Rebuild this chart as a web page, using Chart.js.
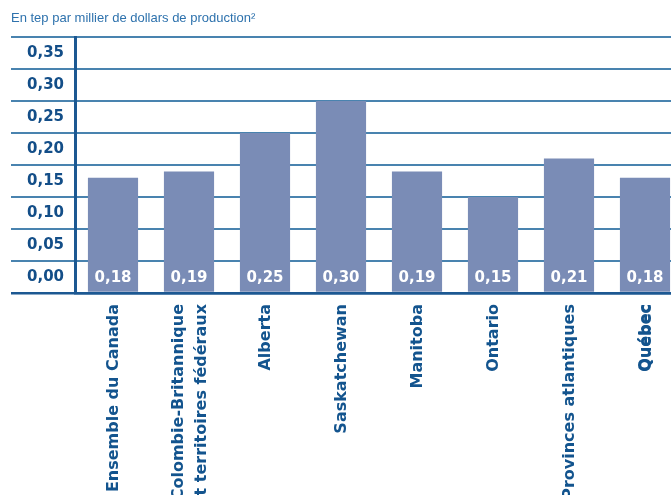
<!DOCTYPE html>
<html lang="fr">
<head>
<meta charset="utf-8">
<title>Intensité énergétique</title>
<script src="https://cdn.jsdelivr.net/npm/chart.js@4.4.1/dist/chart.umd.min.js"></script>
<style>
  html, body { margin: 0; padding: 0; background: #ffffff; overflow: hidden; }
  /* the last bar runs past the right edge, so the canvas is a little wider than the frame */
  #wrap { width: 671px; height: 495px; overflow: hidden; }
  #intensityChart { display: block; }
</style>
</head>
<body>
<div id="wrap"><canvas id="intensityChart" width="683" height="495"></canvas></div>
<script>
// Regions and their energy intensity (tep per thousand dollars of output)
const regions = [
    'Ensemble du Canada',
    ['Colombie-Britannique', 'et territoires fédéraux'],
    'Alberta',
    'Saskatchewan',
    'Manitoba',
    'Ontario',
    'Provinces atlantiques',
    'Québec'
];
const intensity = [0.18, 0.19, 0.25, 0.30, 0.19, 0.15, 0.21, 0.18];

// y axis: gridlines every 0.05 up to 0.40, labels sit in the band above each line
const yMin = 0;
const yMax = 0.40;
const yStep = 0.05;

const DARK = '#1c5892';
const GRID = 'rgba(22, 96, 152, 0.78)';
const BAR = '#7a8cb6';
const LABEL = '#13548e';

function frNumber(v) {
    return v.toFixed(2).replace('.', ',');
}

// writes each value in white at the foot of its bar
const barValues = {
    id: 'barValues',
    afterDraw(chart) {
        const ctx = chart.ctx;
        const yScale = chart.scales.y;
        const base = yScale.getPixelForValue(yMin);
        const band = base - yScale.getPixelForValue(yStep);
        const meta = chart.getDatasetMeta(0);
        ctx.save();
        ctx.fillStyle = '#ffffff';
        ctx.font = 'bold 15px "DejaVu Sans"';
        ctx.textAlign = 'center';
        ctx.textBaseline = 'middle';
        meta.data.forEach((bar, i) => {
            ctx.fillText(frNumber(intensity[i]), bar.x, base - band / 2 + 1);
        });
        ctx.restore();
    }
};

// region names, turned to read upward, hanging from just under the axis
const regionLabels = {
    id: 'regionLabels',
    afterDraw(chart) {
        const ctx = chart.ctx;
        const xScale = chart.scales.x;
        const top = xScale.top + 11;
        const lineGap = 23;
        ctx.save();
        ctx.fillStyle = LABEL;
        ctx.textAlign = 'right';
        ctx.textBaseline = 'middle';
        ctx.font = 'bold 16px "DejaVu Sans"';
        chart.data.labels.forEach((label, i) => {
            const lines = Array.isArray(label) ? label : [label];
            const x = xScale.getPixelForTick(i);
            // the last region is set in a heavier weight: overprint it slightly shifted
            const passes = label === 'Québec' ? [-0.4, 0.4] : [0];
            ctx.save();
            ctx.translate(x, top);
            ctx.rotate(-Math.PI / 2);
            lines.forEach((line, j) => {
                const off = (j - (lines.length - 1) / 2) * lineGap + 1;
                passes.forEach((d) => ctx.fillText(line, 0, off + d));
            });
            ctx.restore();
        });
        ctx.restore();
    }
};

const ctx = document.getElementById('intensityChart').getContext('2d');
new Chart(ctx, {
    type: 'bar',
    data: {
        labels: regions,
        datasets: [{
            data: intensity,
            backgroundColor: BAR,
            borderWidth: 0,
            barPercentage: 0.66,
            categoryPercentage: 1
        }]
    },
    options: {
        responsive: false,
        devicePixelRatio: 1,
        animation: false,
        layout: { padding: { left: 11, right: 0, top: 0, bottom: 0 } },
        plugins: {
            legend: { display: false },
            tooltip: { enabled: false },
            title: {
                display: true,
                text: 'En tep par millier de dollars de production²',
                align: 'start',
                color: '#2e72ad',
                font: { family: '"Liberation Sans Narrow", "Liberation Sans"', size: 13, weight: 'normal', lineHeight: 1.2 },
                padding: { top: 11, bottom: 10.4 }
            }
        },
        scales: {
            x: {
                z: 1,
                grid: { display: false },
                border: { display: true, color: DARK, width: 2.5 },
                ticks: { display: false },
                afterFit(scale) { scale.height = 202; }
            },
            y: {
                z: 1,
                min: yMin,
                max: yMax,
                grid: {
                    color: (c) => (c.tick && c.tick.value === 0 ? DARK : GRID),
                    tickColor: (c) => (c.tick && c.tick.value === 0 ? DARK : GRID),
                    lineWidth: (c) => (c.tick && c.tick.value === 0 ? 2.5 : 2),
                    drawTicks: true,
                    tickLength: 64
                },
                border: { display: true, color: DARK, width: 3 },
                ticks: {
                    stepSize: yStep,
                    padding: -53,
                    labelOffset: -16,
                    color: '#134e88',
                    font: { family: '"DejaVu Sans"', size: 15, weight: 'bold' },
                    callback: (v) => (Math.abs(v - yMax) < 1e-9 ? '' : frNumber(v))
                },
                afterFit(scale) { scale.width = 64; }
            }
        }
    },
    plugins: [barValues, regionLabels]
});
</script>
</body>
</html>
